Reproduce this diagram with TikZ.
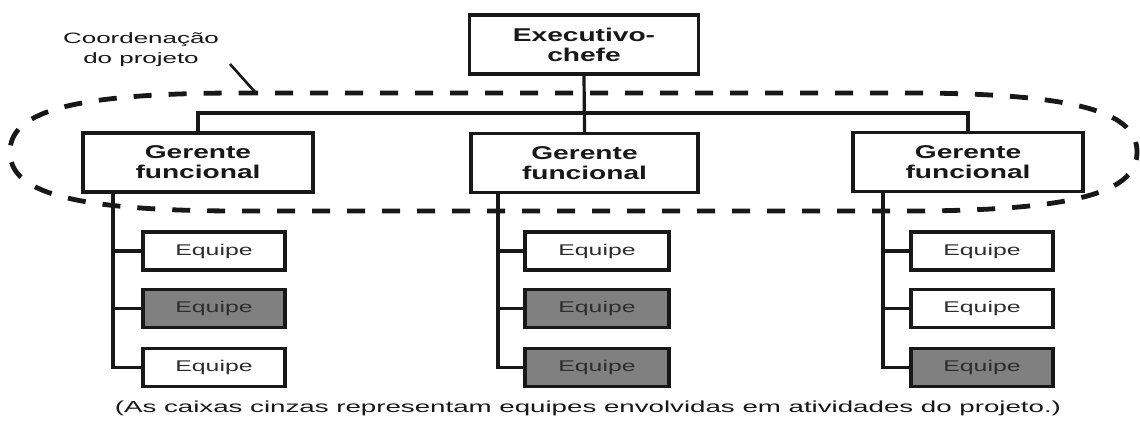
\documentclass[tikz,border=0pt]{standalone}
\usepackage{fontspec}
\setmainfont{Liberation Sans}
\newfontfamily\fbold[FakeStretch=1.52]{Liberation Sans}
\newfontfamily\feq[FakeStretch=1.6]{Liberation Sans}
\newfontfamily\fcap[FakeStretch=1.73]{Liberation Sans}
\definecolor{ink}{RGB}{24,24,24}
\definecolor{boxgray}{RGB}{128,128,128}
\definecolor{eqtext}{RGB}{45,45,45}
\tikzset{
  mgr/.style={draw=ink, line width=3.2pt, fill=white, inner sep=0pt,
    minimum height=59pt, align=center, text=ink,
    font=\fbold\bfseries\fontsize{18.5}{20}\selectfont},
  team/.style={draw=ink, line width=3.2pt, fill=white, inner sep=0pt,
    minimum height=38pt, text=eqtext,
    font=\feq\fontsize{15.5}{17}\selectfont},
  teamg/.style={team, fill=boxgray},
  link/.style={draw=ink, line width=3.2pt},
  coord/.style={draw=ink, line width=4.8pt, dash pattern=on 18pt off 17pt},
  note/.style={align=center, text=ink, font=\fcap\fontsize{15}{20}\selectfont}
}
\begin{document}
\begin{tikzpicture}[x=1pt,y=-1pt]
\useasboundingbox[fill=white] (0,0) rectangle (1140,421);

% dashed coordination ellipse
\draw[coord] (240,93) -- (907,93)
  .. controls (1087,93) and (1137,115) .. (1137,152)
  .. controls (1137,189) and (1087,211) .. (907,211)
  -- (240,211)
  .. controls (60,211) and (10,189) .. (10,152)
  .. controls (10,115) and (60,93) .. (240,93) -- cycle;

% top nodes
\node[mgr, minimum width=229pt] (ex) at (584,44.5) {Executivo-\\chefe};
\node[mgr, minimum width=230pt] (g1) at (198,162.5) {Gerente\\funcional};
\node[mgr, minimum width=227pt] (g2) at (584.5,163) {Gerente\\funcional};
\node[mgr, minimum width=230pt] (g3) at (968,162) {Gerente\\funcional};

\coordinate (bus) at (584,113);
\draw[link] (ex.south) -- (g2.north);
\draw[link] (g1.north) |- (bus) -| (g3.north);

% label
\node[note] (lbl) at (141,50) {Coordenação\\do projeto};
\coordinate (lblend) at (255,92);
\draw[link, line width=2.6pt] (230,64) -- (lblend);

% teams
\node[team,  minimum width=142pt] (a1) at (214,251) {Equipe};
\node[teamg, minimum width=142pt] (a2) at (214,308.5) {Equipe};
\node[team,  minimum width=142pt] (a3) at (214,367.5) {Equipe};

\node[team,  minimum width=144pt] (b1) at (597,251) {Equipe};
\node[teamg, minimum width=144pt] (b2) at (597,308.5) {Equipe};
\node[teamg, minimum width=144pt] (b3) at (597,367.5) {Equipe};

\node[team,  minimum width=142pt] (c1) at (982,251) {Equipe};
\node[team,  minimum width=142pt] (c2) at (982,308.5) {Equipe};
\node[teamg, minimum width=142pt] (c3) at (982,367.5) {Equipe};

% stems
\coordinate (sa) at (113,192);
\coordinate (sb) at (498,193);
\coordinate (sc) at (883,191);
\draw[link] (sa) |- (a3.west);
\draw[link] (a1.west) -- (a1.west -| sa);
\draw[link] (a2.west) -- (a2.west -| sa);
\draw[link] (sb) |- (b3.west);
\draw[link] (b1.west) -- (b1.west -| sb);
\draw[link] (b2.west) -- (b2.west -| sb);
\draw[link] (sc) |- (c3.west);
\draw[link] (c1.west) -- (c1.west -| sc);
\draw[link] (c2.west) -- (c2.west -| sc);

% caption
\node[note, font=\fcap\fontsize{16}{18}\selectfont] (cap) at (588,408)
  {(As caixas cinzas representam equipes envolvidas em atividades do projeto.)};
\end{tikzpicture}
\end{document}
